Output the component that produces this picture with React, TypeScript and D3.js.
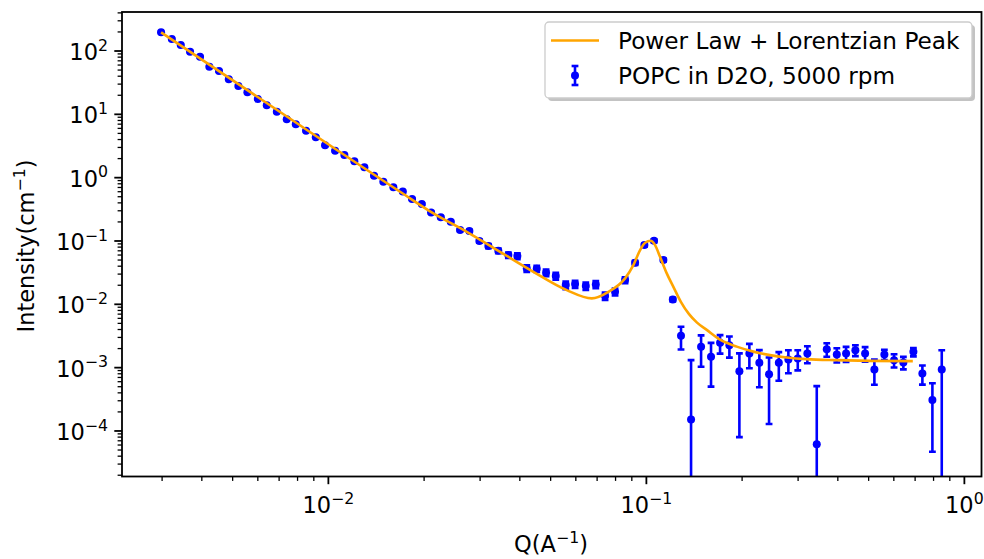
import React from "react";
import * as d3 from "d3";

// ---------- data ----------
const qValues = [
  0.002978, 0.003218, 0.003434, 0.003674, 0.003948, 0.004224, 0.00453, 0.004862, 0.005212, 0.005563,
  0.005998, 0.006401, 0.006884, 0.007397, 0.007898, 0.008508, 0.009129, 0.009764, 0.0105, 0.01123,
  0.01207, 0.01298, 0.01392, 0.01489, 0.01601, 0.01714, 0.01833, 0.01967, 0.02104, 0.02257,
  0.02426, 0.02595, 0.02776, 0.02984, 0.03185, 0.03423, 0.03681, 0.03929, 0.04206, 0.04521,
  0.04837, 0.05189, 0.05578, 0.05968, 0.06449, 0.06933, 0.07416, 0.07971, 0.0857, 0.09215,
  0.09856, 0.1057, 0.1131, 0.1211, 0.1285, 0.1382, 0.1486, 0.1597, 0.1705, 0.1824,
  0.1961, 0.2108, 0.2266, 0.2431, 0.2609, 0.2796, 0.2993, 0.3208, 0.3434, 0.3692,
  0.397, 0.4246, 0.4542, 0.4873, 0.5212, 0.5603, 0.601, 0.6429, 0.6913, 0.7378,
  0.7933, 0.8489,
];
const intensity = [
  197.4, 154.7, 124.4, 97.5, 81.3, 56.5, 48.3, 35.7, 28.0, 22.3,
  17.4, 13.9, 11.0, 8.34, 6.95, 5.51, 4.33, 3.24, 2.66, 2.28,
  1.81, 1.454, 1.072, 0.861, 0.703, 0.603, 0.459, 0.383, 0.283, 0.236,
  0.201, 0.1487, 0.1433, 0.0996, 0.0831, 0.07, 0.0599, 0.0577, 0.0369, 0.0365,
  0.0315, 0.0279, 0.0201, 0.0209, 0.0194, 0.0206, 0.01347, 0.01576, 0.0241, 0.0452,
  0.0861, 0.1007, 0.0499, 0.01187, 0.003179, 0.000152, 0.002131, 0.001481, 0.002465, 0.002267,
  0.00088, 0.001676, 0.001191, 0.000789, 0.001191, 0.001347, 0.001397, 0.001676, 0.0000619, 0.00196,
  0.001616, 0.001676, 0.00189, 0.001676, 0.000937, 0.001616, 0.001313, 0.001208, 0.001777, 0.00081,
  0.000307, 0.000937,
];
const intensityErr = [
  4, 3, 2.5, 2, 1.6, 1.1, 1.0, 0.7, 0.6, 0.45,
  0.35, 0.28, 0.22, 0.17, 0.14, 0.11, 0.09, 0.07, 0.055, 0.047,
  0.038, 0.031, 0.023, 0.019, 0.016, 0.014, 0.011, 0.01, 0.008, 0.007,
  0.007, 0.006, 0.007, 0.006, 0.006, 0.006, 0.006, 0.006, 0.0045, 0.0042,
  0.0038, 0.0035, 0.0027, 0.0027, 0.0026, 0.0026, 0.0018, 0.002, 0.0025, 0.0035,
  0.005, 0.006, 0.003, 0.0008, 0.00125, 0.00116, 0.0011, 0.00098, 0.0008, 0.00083,
  0.0008, 0.0007, 0.0007, 0.00066, 0.00057, 0.00053, 0.00049, 0.0005, 0.000448, 0.00047,
  0.00041, 0.00045, 0.00037, 0.00043, 0.0004, 0.0003, 0.00031, 0.00027, 0.00027, 0.00027,
  0.00026, 0.00095,
];
const fitQ = [
  0.002978, 0.00705, 0.01681, 0.02139, 0.02724, 0.03467, 0.04413, 0.05619, 0.06734, 0.07596,
  0.0857, 0.09102, 0.09555, 0.09906, 0.1032, 0.1065, 0.1104, 0.1159, 0.1216, 0.1285,
  0.1362, 0.1443, 0.1552, 0.1705, 0.1924, 0.217, 0.2449, 0.2763, 0.3194, 0.397, 0.5053, 0.6884,
];
const fitI = [
  197.4, 10.87, 0.599, 0.273, 0.1397, 0.0675, 0.0326, 0.01676, 0.0124, 0.01576,
  0.02566, 0.0416, 0.0718, 0.0937, 0.1007, 0.0861, 0.0563, 0.0308, 0.0189, 0.01083,
  0.007, 0.00514, 0.00391, 0.00277, 0.002147, 0.00179, 0.001575, 0.001449, 0.001362, 0.001313, 0.00128, 0.001267,
];
const xTickExponents = ["−2", "−1", "0"];
const yTickExponents = ["2", "1", "0", "−1", "−2", "−3", "−4"];
const legendLabels = ["Power Law + Lorentzian Peak", "POPC in D2O, 5000 rpm"];
const xLabel = "Q(A";
const yLabel = "Intensity(cm";

// ---------- layout ----------
const W = 984;
const H = 559;
const M = { left: 122, right: 981.5, top: 12, bottom: 476.5 };
const FS = 22.5;
const LEG_FS = 23.2;
const FONT = "DejaVu Sans, sans-serif";
const BLUE = "#0000ff";
const ORANGE = "#ffa500";

export default function App() {
  const x = d3.scaleLog().domain([0.002244, 1.132]).range([M.left, M.right]);
  const y = d3.scaleLog().domain([1.91e-5, 413]).range([M.bottom, M.top]);

  const isMajor = (v: number) => Math.abs(Math.log10(v) - Math.round(Math.log10(v))) < 1e-6;
  const xTicks = x.ticks();
  const yTicks = y.ticks();
  const xMajors = xTicks.filter(isMajor);
  const yMajors = yTicks.filter(isMajor).sort((a, b) => b - a);

  const fitPts: [number, number][] = fitQ.map((q, i) => [x(q), y(fitI[i])]);
  const fitPath = d3.line().curve(d3.curveMonotoneX)(fitPts) || "";

  const points = qValues.map((q, i) => {
    const v = intensity[i];
    const e = intensityErr[i];
    const lo = v - e;
    return {
      cx: x(q),
      cy: y(v),
      top: y(v + e),
      bot: lo > 0 ? y(lo) : M.bottom + 20,
    };
  });

  const cap = 3.4;
  const sup = (txt: string) => (
    <tspan fontSize={FS * 0.7} dy={-FS * 0.42}>{txt}</tspan>
  );

  return (
    <svg
      width={W}
      height={H}
      style={{ position: "absolute", left: 0, top: 0, background: "#fff" }}
      fontFamily={FONT}
    >
      <defs>
        <clipPath id="plotclip">
          <rect x={M.left} y={M.top} width={M.right - M.left} height={M.bottom - M.top} />
        </clipPath>
      </defs>
      <rect x={0} y={0} width={W} height={H} fill="#fff" />

      {/* data with error bars */}
      <g clipPath="url(#plotclip)">
        {points.map((p, i) => (
          <g key={i} stroke={BLUE} strokeWidth={2.6}>
            <line x1={p.cx} x2={p.cx} y1={p.top} y2={p.bot} />
            <line x1={p.cx - cap} x2={p.cx + cap} y1={p.top} y2={p.top} />
            <line x1={p.cx - cap} x2={p.cx + cap} y1={p.bot} y2={p.bot} />
            <circle cx={p.cx} cy={p.cy} r={4} fill={BLUE} stroke="none" />
          </g>
        ))}
        <path d={fitPath} fill="none" stroke={ORANGE} strokeWidth={2.6} />
      </g>

      {/* spines */}
      <rect
        x={M.left}
        y={M.top}
        width={M.right - M.left}
        height={M.bottom - M.top}
        fill="none"
        stroke="#000"
        strokeWidth={1.8}
      />

      {/* x ticks */}
      {xTicks.map((t, i) => {
        const maj = isMajor(t);
        return (
          <line
            key={"xt" + i}
            x1={x(t)}
            x2={x(t)}
            y1={M.bottom}
            y2={M.bottom + (maj ? 7.7 : 4.4)}
            stroke="#000"
            strokeWidth={maj ? 1.8 : 1.3}
          />
        );
      })}
      {xMajors.map((t, i) => (
        <text key={"xl" + i} x={x(t)} y={513} textAnchor="middle" fontSize={FS} fill="#000">
          10{sup(xTickExponents[i])}
        </text>
      ))}

      {/* y ticks */}
      {yTicks.map((t, i) => {
        const maj = isMajor(t);
        return (
          <line
            key={"yt" + i}
            x1={M.left - (maj ? 7.7 : 4.4)}
            x2={M.left}
            y1={y(t)}
            y2={y(t)}
            stroke="#000"
            strokeWidth={maj ? 1.8 : 1.3}
          />
        );
      })}
      {yMajors.map((t, i) => (
        <text key={"yl" + i} x={108} y={y(t) + 9} textAnchor="end" fontSize={FS} fill="#000">
          10{sup(yTickExponents[i])}
        </text>
      ))}

      {/* axis labels */}
      <text x={551} y={552} textAnchor="middle" fontSize={FS} fill="#000">
        {xLabel}
        <tspan fontSize={FS * 0.7} dy={-FS * 0.42}>−1</tspan>
        <tspan dy={FS * 0.42}>)</tspan>
      </text>
      <text
        transform={`translate(34,246) rotate(-90)`}
        textAnchor="middle"
        fontSize={FS}
        fill="#000"
      >
        {yLabel}
        <tspan fontSize={FS * 0.7} dy={-FS * 0.42}>−1</tspan>
        <tspan dy={FS * 0.42}>)</tspan>
      </text>

      {/* legend */}
      <g>
        <rect x={548} y={25} width={427} height={76} rx={4} fill="#888" opacity={0.5} />
        <rect x={545} y={22} width={427} height={76} rx={4} fill="#fff" stroke="#cccccc" strokeWidth={1.3} />
        <line x1={551} x2={599} y1={40.5} y2={40.5} stroke={ORANGE} strokeWidth={2.6} />
        <text x={618} y={49} fontSize={LEG_FS} fill="#000">{legendLabels[0]}</text>
        <g stroke={BLUE} strokeWidth={2.6}>
          <line x1={575} x2={575} y1={66} y2={85} />
          <line x1={575 - cap} x2={575 + cap} y1={66} y2={66} />
          <line x1={575 - cap} x2={575 + cap} y1={85} y2={85} />
          <circle cx={575} cy={75.5} r={4} fill={BLUE} stroke="none" />
        </g>
        <text x={618} y={83.5} fontSize={LEG_FS} fill="#000">{legendLabels[1]}</text>
      </g>
    </svg>
  );
}
